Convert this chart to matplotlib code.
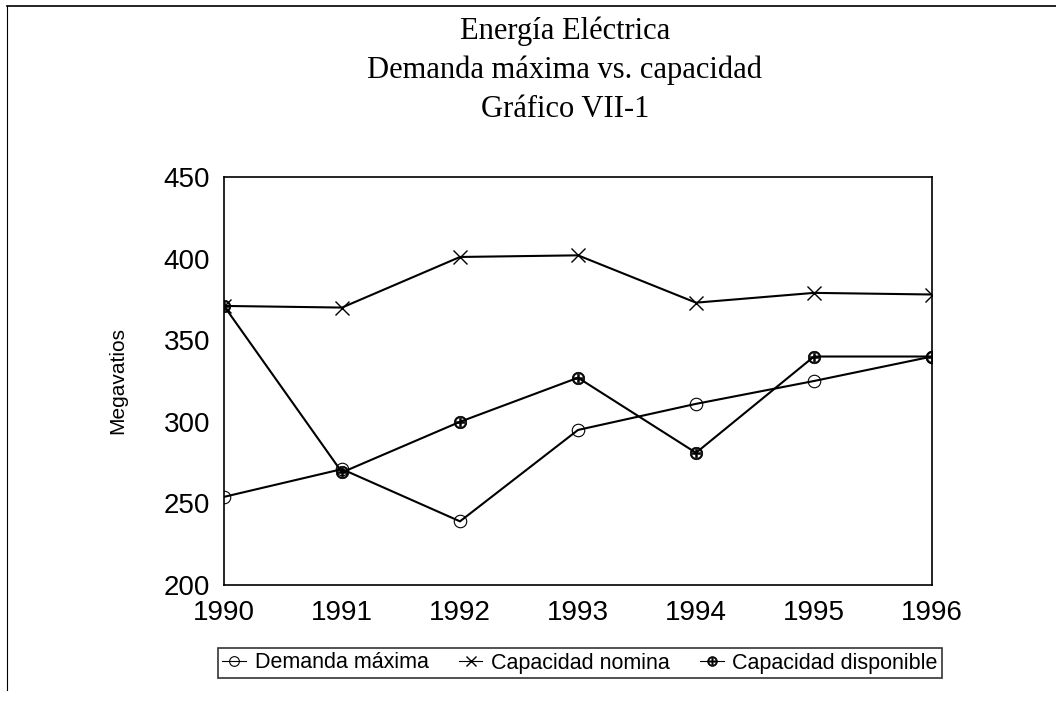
import matplotlib
matplotlib.use("Agg")
import matplotlib.pyplot as plt
from matplotlib.lines import Line2D
from matplotlib import font_manager as fm

years = [1990, 1991, 1992, 1993, 1994, 1995, 1996]
demanda = [254, 271, 239, 295, 311, 325, 340]
cap_nomina = [371, 370, 401, 402, 373, 379, 378]
cap_disp = [371, 269, 300, 327, 281, 340, 340]
yticks = [200, 250, 300, 350, 400, 450]

names = {f.name for f in fm.fontManager.ttflist}
sans = "Liberation Sans" if "Liberation Sans" in names else "DejaVu Sans"
serif = "Liberation Serif" if "Liberation Serif" in names else "DejaVu Serif"

fig = plt.figure(figsize=(10.56, 7.01), dpi=100)
ax = fig.add_axes([224/1056, 1-585/701, (932-224)/1056, (585-177)/701])

ax.plot(years, demanda, color="black", lw=1.5, marker="o", ms=9,
        mfc="none", mec="black", mew=0.8, label="Demanda máxima")
ax.plot(years, cap_nomina, color="black", lw=1.5, marker="x", ms=10,
        mew=1.0, label="Capacidad nomina")
ax.plot(years, cap_disp, color="black", lw=1.5, marker=r"$\oplus$", ms=9,
        mew=0.5, label="Capacidad disponible")

ax.set_xlim(1990, 1996)
ax.set_ylim(200, 450)
ax.set_xticks(years)
ax.set_yticks(yticks)
ax.tick_params(length=0, labelsize=20)
ax.tick_params(axis="x", pad=11)
ax.tick_params(axis="y", pad=10)
for lab in ax.get_xticklabels() + ax.get_yticklabels():
    lab.set_fontfamily(sans)
for s in ax.spines.values():
    s.set_linewidth(1.2)
ax.set_ylabel("Megavatios", fontsize=15, fontfamily=sans, labelpad=26)

fig.text(0.535, 1-17/701, "Energía Eléctrica\nDemanda máxima vs. capacidad\nGráfico VII-1",
         ha="center", va="top", fontsize=22, fontfamily=serif, linespacing=1.42)

leg = fig.legend(loc="center", bbox_to_anchor=(580/1056, 1-663/701), ncol=3,
                 frameon=True, fancybox=False, edgecolor="black",
                 handlelength=1.1, handletextpad=0.4, columnspacing=1.4,
                 borderpad=0.2, prop={"family": sans, "size": 15.5})
leg.get_frame().set_linewidth(1.2)
for h in leg.legend_handles:
    h.set_markersize(7)
    h.set_linewidth(0.8)

# scan frame lines
fig.add_artist(Line2D([7/1056, 1.0], [1-6/701, 1-6/701], color="black", lw=1.2))
fig.add_artist(Line2D([7/1056, 7/1056], [1-6/701, 1-690/701], color="black", lw=0.8))

fig.savefig("out.png", dpi=100)
